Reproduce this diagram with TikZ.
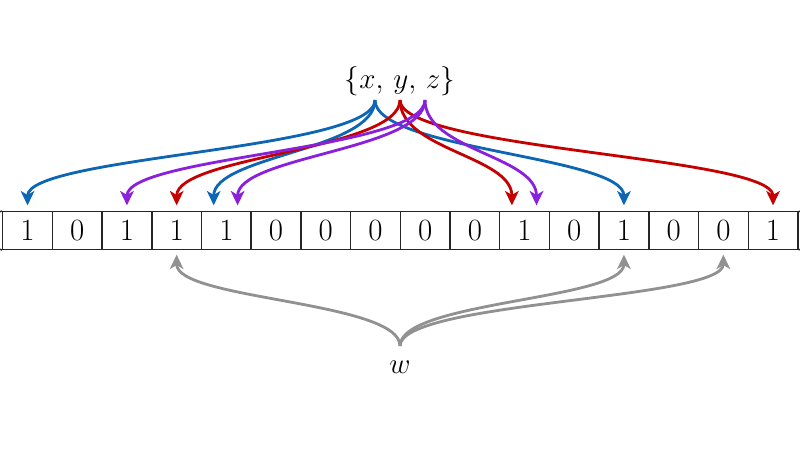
\documentclass[tikz,border=0pt]{standalone}
\usepackage{amsmath,amssymb}
\usepackage{xcolor}
\usepackage{tikz}
\usetikzlibrary{arrows.meta}
\definecolor{hashblue}{RGB}{12,102,180}
\definecolor{hashred}{RGB}{196,0,0}
\definecolor{hashpurple}{RGB}{138,32,218}
\definecolor{wgray}{RGB}{145,145,145}
\tikzset{
  bitcell/.style={draw=black!85,line width=1pt,minimum width=1.2425cm,
    minimum height=0.94cm,inner sep=0pt,font=\fontsize{22}{22}\selectfont},
  hasharrow/.style={line width=2pt,shorten >=4pt,
    -{Stealth[length=3.6mm,width=3.4mm,inset=1mm]}},
  queryarrow/.style={hasharrow,wgray,shorten >=3.3pt},
}
\begin{document}
\begin{tikzpicture}[x=0.025cm,y=-0.025cm]
\useasboundingbox (0,0) rectangle (800,450);
% the bit array
\foreach \b [count=\i] in {1,0,1,1,1,0,0,0,0,0,1,0,1,0,0,1}
  \node[bitcell] (c\i) at ({2.7+49.7*(\i-0.5)},230.5) {\b};
\draw[black!85,line width=1pt] (0,211.7) -- (c1.north west) (c16.north east) -- (800,211.7);
\draw[black!85,line width=1pt] (0,249.3) -- (c1.south west) (c16.south east) -- (800,249.3);
% the set and the query element
\node (set) at (400,81) {\fontsize{21}{21}\selectfont$\{x,\,y,\,z\}$};
\node (w) at (400,367) {\fontsize{21}{21}\selectfont$w$};
\coordinate (hx) at (375,100);
\coordinate (hy) at (400,100);
\coordinate (hz) at (425,100);
\coordinate (wtop) at (400,346);
% hashes of x
\draw[hasharrow,hashblue] (hx) .. controls +(0,50) and +(0,-55) .. (c1.north);
\draw[hasharrow,hashblue] (hx) .. controls +(0,50) and +(0,-55) .. ([xshift=-9pt]c5.north);
\draw[hasharrow,hashblue] (hx) .. controls +(0,50) and +(0,-55) .. (c13.north);
% hashes of y
\draw[hasharrow,hashred] (hy) .. controls +(0,50) and +(0,-55) .. (c4.north);
\draw[hasharrow,hashred] (hy) .. controls +(0,50) and +(0,-55) .. ([xshift=-9pt]c11.north);
\draw[hasharrow,hashred] (hy) .. controls +(0,50) and +(0,-55) .. (c16.north);
% hashes of z
\draw[hasharrow,hashpurple] (hz) .. controls +(0,50) and +(0,-55) .. (c3.north);
\draw[hasharrow,hashpurple] (hz) .. controls +(0,50) and +(0,-55) .. ([xshift=8pt]c5.north);
\draw[hasharrow,hashpurple] (hz) .. controls +(0,50) and +(0,-55) .. ([xshift=8.5pt]c11.north);
% hashes of w
\draw[queryarrow] (wtop) .. controls +(0,-45) and +(0,50) .. (c4.south);
\draw[queryarrow] (wtop) .. controls +(0,-45) and +(0,50) .. (c13.south);
\draw[queryarrow] (wtop) .. controls +(0,-45) and +(0,50) .. (c15.south);
\end{tikzpicture}
\end{document}
